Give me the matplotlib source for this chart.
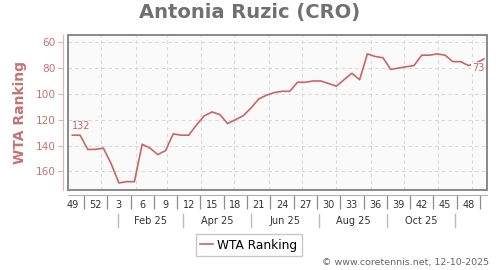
import matplotlib
matplotlib.use('Agg')
import matplotlib.pyplot as plt
import matplotlib.transforms as mtransforms
from matplotlib.patches import Rectangle
from datetime import date
import numpy as np

# weekly WTA ranking, week 49/2024 .. week 50/2025
week_labels = ['49', '52', '3', '6', '9', '12', '15', '18', '21', '24',
               '27', '30', '33', '36', '39', '42', '45', '48']
ranks = [132, 132, 143, 143, 142, 154, 169, 168, 168, 139,
         142, 147, 144, 131, 132, 132, 124, 117, 114, 116,
         123, 120, 117, 111, 104, 101, 99, 98, 98, 91,
         91, 90, 90, 92, 94, 89, 84, 89, 69, 71,
         72, 81, 80, 79, 78, 70, 70, 69, 70, 75,
         75, 78, 76, 73]
month_labels = ['Feb 25', 'Apr 25', 'Jun 25', 'Aug 25', 'Oct 25']
month_bounds = [date(2025, 1, 16), date(2025, 3, 16), date(2025, 5, 16),
                date(2025, 7, 16), date(2025, 9, 16), date(2025, 11, 16)]
grid_months = [date(2025, m, 1) for m in range(1, 13)]
ref_day = date(2024, 12, 6)   # date of the first week point

def to_week(d):
    return (d - ref_day).days / 7.0

RED = '#cd6464'
LRED = '#c87272'

fig = plt.figure(figsize=(5, 2.7), dpi=100)
ax = fig.add_axes([68 / 500, 1 - 190.3 / 270, 419 / 500, 155 / 270])
ax.set_facecolor('#fafafa')

x = np.arange(len(ranks))
ax.plot(x, ranks, color=RED, lw=1.2, zorder=3)

ax.set_xlim(-0.55, 53.4)
ax.set_ylim(174.7, 54.6)

# grid
ax.set_yticks([60, 80, 100, 120, 140, 160])
ax.yaxis.grid(True, color='#d8d8d8', lw=0.8, ls=(0, (3, 3)))
for d in grid_months:
    ax.axvline(to_week(d), color='#d8d8d8', lw=0.8, ls=(0, (3, 3)), zorder=1)
ax.set_axisbelow(True)

# plot frame
ax.add_patch(Rectangle((0, 0), 1, 1, transform=ax.transAxes, fill=False,
                       edgecolor='#808080', lw=1.3, clip_on=False, zorder=4))
for s in ['top', 'right']:
    ax.spines[s].set_visible(False)
ax.spines['left'].set_position(('outward', 3.5))
ax.spines['left'].set_color('#e0b4b4')
ax.spines['bottom'].set_position(('outward', 3.6))
ax.spines['bottom'].set_color('#b0b0b0')

ax.tick_params(axis='y', colors='#e0b4b4', labelcolor=LRED, labelsize=7.6,
               length=3.6, pad=1.5)

# week labels (minor) with separators (major)
label_pos = np.arange(len(week_labels)) * 3
ax.set_xticks(label_pos + 1.5)
ax.set_xticklabels([])
ax.set_xticks(label_pos, minor=True)
ax.set_xticklabels(week_labels, minor=True)
ax.tick_params(axis='x', which='major', length=10, color='#8c8c8c', width=0.9)
ax.tick_params(axis='x', which='minor', length=0, pad=3.5, labelsize=7,
               labelcolor='#333333')

# month row
trans = mtransforms.blended_transform_factory(ax.transData, ax.transAxes)
bounds = [to_week(d) for d in month_bounds]
for b in bounds:
    ax.plot([b, b], [-0.155, -0.235], transform=trans, color='#bbbbbb',
            lw=1, clip_on=False)
for i, lab in enumerate(month_labels):
    ax.text((bounds[i] + bounds[i + 1]) / 2, -0.196, lab, transform=trans,
            ha='center', va='center', fontsize=7, color='#333333')

# value labels
ax.annotate(str(ranks[0]), (x[0], ranks[0]), xytext=(0, 3),
            textcoords='offset points', ha='left', va='bottom',
            fontsize=7, color=RED, zorder=5)
ax.annotate(str(ranks[-1]), (x[-1], ranks[-1]), xytext=(-4, -3),
            textcoords='offset points', ha='center', va='top',
            fontsize=7, color=RED, zorder=5,
            bbox=dict(facecolor='#fafafa', edgecolor='none', pad=0.6))

ax.set_ylabel('WTA Ranking', fontsize=10, fontweight='bold', color=LRED)
ax.yaxis.set_label_coords(-0.099, 0.5)

fig.text(0.5, 1 - 12.5 / 270, 'Antonia Ruzic (CRO)', ha='center', va='center',
         fontsize=14, fontweight='bold', color='#707070')

fig.legend(['WTA Ranking'], loc='center', bbox_to_anchor=(249 / 500, 1 - 245 / 270),
           fontsize=8.7, frameon=True, fancybox=False, edgecolor='#bbbbbb',
           handlelength=1.0, handletextpad=0.4, borderpad=0.35,
           borderaxespad=0)

fig.text(489 / 500, 1 - 263 / 270, '\u00a9 www.coretennis.net, 12-10-2025',
         ha='right', va='center', fontsize=6.8, color='#666666')

fig.savefig('out.png', dpi=100)
